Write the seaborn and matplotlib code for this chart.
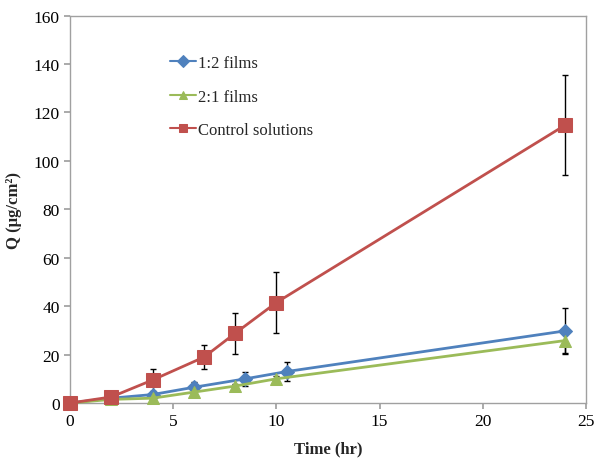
import matplotlib
matplotlib.use("Agg")
import matplotlib.pyplot as plt
import seaborn as sns
import numpy as np
import pandas as pd

sns.set_theme(style="white")
plt.rcParams['font.family'] = ['Liberation Serif', 'DejaVu Serif']

# data
t_12 = [0, 2, 4, 6, 8.5, 10.5, 24]
q_12 = [0, 2.0, 3.5, 6.5, 10.0, 13.0, 29.8]
e_12 = [0, 0.5, 1.0, 2.0, 3.0, 4.0, 9.5]

t_21 = [0, 2, 4, 6, 8, 10, 24]
q_21 = [0, 1.5, 2.0, 4.5, 7.0, 10.0, 25.8]
e_21 = [0, 0.3, 0.5, 1.0, 1.0, 1.0, 5.3]

t_ctrl = [0, 2, 4, 6.5, 8, 10, 24]
q_ctrl = [0, 2.5, 9.5, 19.0, 28.8, 41.5, 114.8]
e_ctrl = [0, 0.5, 4.5, 5.0, 8.5, 12.7, 20.8]

series = [
    ("1:2 films", t_12, q_12, e_12, "#4F81BD", "D", 7),
    ("2:1 films", t_21, q_21, e_21, "#9BBB59", "^", 9),
    ("Control solutions", t_ctrl, q_ctrl, e_ctrl, "#C0504D", "s", 10),
]

fig = plt.figure(figsize=(6, 4.6), dpi=100)
ax = fig.add_axes([0.1167, 0.1217, 0.86, 0.8423])

for name, t, q, e, col, mk, ms in series:
    df = pd.DataFrame({"t": t, "q": q})
    ax.errorbar(t, q, yerr=e, fmt="none", ecolor="black", elinewidth=1,
                capsize=2.5, capthick=1, zorder=2)
    sns.lineplot(data=df, x="t", y="q", ax=ax, color=col, linewidth=2,
                 marker=mk, markersize=ms, markeredgecolor=col,
                 label=name, zorder=3, clip_on=False)

ax.set_xlim(0, 25)
ax.set_ylim(0, 160)
ax.set_xticks(np.arange(0, 26, 5))
ax.set_yticks(np.arange(0, 161, 20))
ax.tick_params(axis="both", labelsize=12.5, colors="black", length=4,
               direction="out", bottom=True, left=True, color="#a0a0a0")
for s in ax.spines.values():
    s.set_color("#a0a0a0")
    s.set_linewidth(1)

ax.set_xlabel("Time (hr)", fontsize=12, fontweight="bold", labelpad=8)
ax.set_ylabel("Q (µg/cm²)", fontsize=12, fontweight="bold", labelpad=8)

leg = ax.legend(loc="upper left", bbox_to_anchor=(0.18, 0.915), frameon=False,
                fontsize=12, labelspacing=1.05, handlelength=1.6,
                handletextpad=0.1, borderaxespad=0)
for h in leg.legend_handles:
    h.set_markersize(6)
    h.set_linewidth(1.5)

fig.savefig("out.png", dpi=100)
